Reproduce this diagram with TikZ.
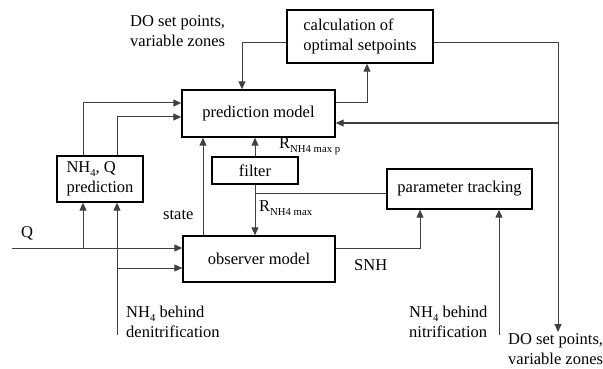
\documentclass[tikz,border=0pt]{standalone}
\usepackage{fontspec}
\setmainfont{Liberation Serif}
\usetikzlibrary{arrows.meta}
\newcommand{\subsm}[1]{\raisebox{-4pt}{\fontsize{10.7}{12}\selectfont #1}}
\begin{document}
\begin{tikzpicture}[x=1pt,y=-1pt,
  every node/.style={font=\fontsize{16.5}{19.5}\selectfont, inner sep=0pt},
  blk/.style={draw=black, line width=1.4pt, fill=white, align=left},
  conn/.style={draw=black!75, line width=1pt},
  arr/.style={conn, -{Triangle[length=8pt,width=7pt]}},
  lbl/.style={align=left, anchor=west}]
\useasboundingbox (0,0) rectangle (603,369);
% blocks
\node[blk, minimum width=153pt, minimum height=47pt] (pred) at (258.5,113.5) {prediction model};
\node[blk, minimum width=146pt, minimum height=53pt] (calc) at (360,36.5) {calculation of\\optimal setpoints};
\node[blk, minimum width=86pt, minimum height=46pt] (nhq) at (100,179) {NH\subsm{4}, Q\\prediction};
\node[blk, minimum width=86pt, minimum height=27pt] (filter) at (255,170.5) {filter};
\node[blk, minimum width=152pt, minimum height=46pt] (obs) at (259,259) {observer model};
\node[blk, minimum width=145pt, minimum height=40pt] (par) at (459.5,189) {parameter tracking};
% free ends
\coordinate (doout) at (558,332);
\coordinate (j1) at (558,123);
\coordinate (qin) at (12,248);
\coordinate (qj) at (83,248);
\coordinate (dn) at (117,335);
\coordinate (dj) at (117,268);
\coordinate (nit) at (499,335);
% connectors
\draw[arr] (calc.west |- 0,43) -| (pred.north -| 242,0);
\draw[arr] (pred.east |- 0,103) -| (calc.south -| 367,0);
\draw[arr] (calc.east |- 0,43) -| (doout);
\draw[arr] (j1) -- (pred.east |- j1);
\draw[arr] (nhq.north -| 83,0) |- (pred.west |- 0,103);
\draw[arr] (nhq.north -| 117,0) |- (pred.west |- 0,117);
\draw[arr] (obs.north -| 203,0) -- (pred.south -| 203,0);
\draw[arr] (filter.north) -- (pred.south -| filter.north);
\draw[arr] (filter.south) -- (obs.north -| filter.south);
\draw[conn] (par.west |- 0,193) -- (filter.south |- 0,193);
\draw[arr] (qin) -- (obs.west |- qin);
\draw[arr] (qj) -- (nhq.south -| qj);
\draw[arr] (dn) -- (nhq.south -| dn);
\draw[arr] (dj) -- (obs.west |- dj);
\draw[arr] (obs.east |- 0,248) -| (par.south -| 420,0);
\draw[arr] (nit) -- (par.south -| nit);
% labels
\node[lbl] (ldotop) at (130,31) {DO set points,\\variable zones};
\node[lbl] (lrp) at (279,146) {R\subsm{NH4 max p}};
\node[lbl] (lr) at (259,208) {R\subsm{NH4 max}};
\node[lbl] (lstate) at (163,215) {state};
\node[lbl] (lq) at (21,233) {Q};
\node[lbl] (lsnh) at (354,265) {SNH};
\node[lbl] (ldenit) at (126,322) {NH\subsm{4} behind\\denitrification};
\node[lbl] (lnit) at (409,322) {NH\subsm{4} behind\\nitrification};
\node[lbl] (ldobot) at (508,349) {DO set points,\\variable zones};
\end{tikzpicture}
\end{document}
